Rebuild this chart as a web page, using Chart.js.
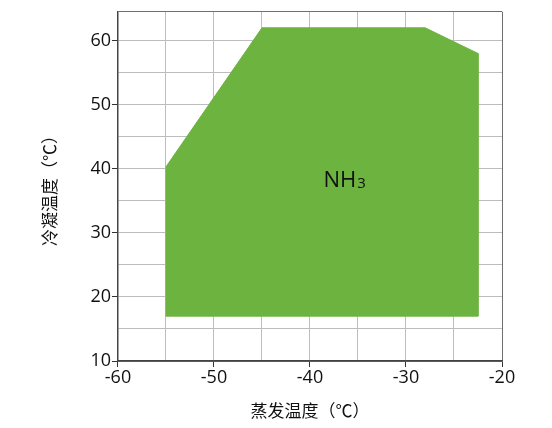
<!DOCTYPE html>
<html>
<head>
<meta charset="utf-8">
<script src="https://cdn.jsdelivr.net/npm/chart.js@4/dist/chart.umd.min.js"></script>
<style>
  html, body { margin: 0; padding: 0; background: #fff; }
  #wrap { width: 552px; height: 428px; }
</style>
</head>
<body>
<div id="wrap"><canvas id="myChart" width="552" height="428"></canvas></div>
<script>
// operating envelope of NH3 (evaporating vs condensing temp)
var evapTemp = [-55, -55, -45, -28, -22.5, -22.5, -55]
var condTemp = [17, 40.3, 62, 62, 58, 17, 17]
var seriesName = 'NH3'
var labelAt = [-38.6, 37.2]   // where the NH3 text sits, in axis units

var xTitle = '蒸发温度（℃）'
var yTitle = '冷凝温度（℃）'

var pts = []
for (var i = 0; i < evapTemp.length; i++) pts.push({x: evapTemp[i], y: condTemp[i]})

var tickFont = {family: '"Open Sans", "Noto Sans", sans-serif', size: 18}
var titleFont = {family: '"Noto Sans CJK SC", sans-serif', size: 17}

function gridCol(ctx) {
  if (ctx.index === 0 || ctx.index === ctx.scale.ticks.length - 1) return '#6e6e6e'
  return '#bdbdbd'
}
function tickCol(ctx) {
  var v = ctx.tick ? ctx.tick.value : 0
  return (Math.abs(v % 10) < 0.01) ? '#333' : 'rgba(0,0,0,0)'
}

var nhLabel = {
  id: 'nhLabel',
  afterDatasetsDraw: function(chart) {
    var c = chart.ctx, sx = chart.scales.x, sy = chart.scales.y
    var px = sx.getPixelForValue(labelAt[0]), py = sy.getPixelForValue(labelAt[1])
    c.save()
    c.fillStyle = '#111'
    c.textBaseline = 'alphabetic'
    c.textAlign = 'left'
    c.font = '22px "Open Sans", "Noto Sans", sans-serif'
    c.fillText('NH', px, py)
    var w = c.measureText('NH').width
    c.font = '15px "Open Sans", "Noto Sans", sans-serif'
    c.fillText('3', px + w + 1, py + 1)
    c.restore()
  }
}

var clusterChart = new Chart(document.getElementById('myChart'), {
  type: 'scatter',
  data: {
    datasets: [{
      label: seriesName,
      data: pts,
      showLine: true,
      fill: 'shape',
      backgroundColor: '#6db33f',
      borderColor: '#6db33f',
      borderWidth: 1,
      pointRadius: 0,
      tension: 0
    }]
  },
  options: {
    responsive: false,
    animation: false,
    layout: {padding: {left: 39, right: 50, top: 4, bottom: 7}},
    plugins: {legend: {display: false}, tooltip: {enabled: false}},
    scales: {
      x: {
        type: 'linear', min: -60, max: -20,
        border: {color: '#444', width: 1.5},
        grid: {color: gridCol, tickColor: tickCol, tickLength: 6, lineWidth: 1},
        ticks: {
          stepSize: 5, color: '#111', font: tickFont, padding: 0, maxRotation: 0, autoSkip: false,
          callback: function(v) { return v % 10 === 0 ? v : '' }
        },
        title: {display: true, text: xTitle, color: '#111', font: titleFont, padding: {top: 12, bottom: 0}}
      },
      y: {
        type: 'linear', min: 10, max: 64.5,
        border: {color: '#444', width: 1.5},
        grid: {color: gridCol, tickColor: tickCol, tickLength: 6, lineWidth: 1},
        ticks: {
          stepSize: 5, color: '#111', font: tickFont, padding: 1, autoSkip: false,
          callback: function(v) { return v % 10 === 0 ? v : '' }
        },
        title: {display: true, text: yTitle, color: '#111', font: titleFont, padding: {top: 0, bottom: 30}}
      }
    }
  },
  plugins: [nhLabel]
})
</script>
</body>
</html>
